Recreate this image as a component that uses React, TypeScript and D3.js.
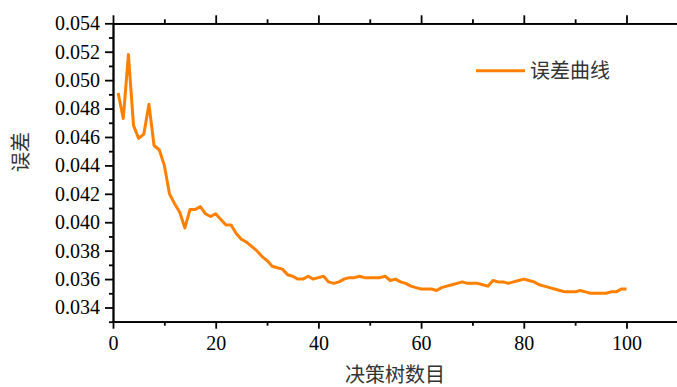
import { useEffect, useRef } from "react";
import * as d3 from "d3";

// number of trees (1..100) and the error
const treeCounts: number[] = d3.range(1, 101);
const errorValues: number[] = [
  0.0491, 0.0473, 0.0518, 0.0468, 0.0459, 0.0462, 0.0483, 0.0454, 0.0451, 0.0440,
  0.0420, 0.0413, 0.0407, 0.0396, 0.0409, 0.0409, 0.0411, 0.0406, 0.0404, 0.0406,
  0.0402, 0.0398, 0.0398, 0.0392, 0.0388, 0.0386, 0.0383, 0.0380, 0.0376, 0.0373,
  0.0369, 0.0368, 0.0367, 0.0363, 0.0362, 0.0360, 0.0360, 0.0362, 0.0360, 0.0361,
  0.0362, 0.0358, 0.0357, 0.0358, 0.0360, 0.0361, 0.0361, 0.0362, 0.0361, 0.0361,
  0.0361, 0.0361, 0.0362, 0.0359, 0.0360, 0.0358, 0.0357, 0.0355, 0.0354, 0.0353,
  0.0353, 0.0353, 0.0352, 0.0354, 0.0355, 0.0356, 0.0357, 0.0358, 0.0357, 0.0357,
  0.0357, 0.0356, 0.0355, 0.0359, 0.0358, 0.0358, 0.0357, 0.0358, 0.0359, 0.0360,
  0.0359, 0.0358, 0.0356, 0.0355, 0.0354, 0.0353, 0.0352, 0.0351, 0.0351, 0.0351,
  0.0352, 0.0351, 0.0350, 0.0350, 0.0350, 0.0350, 0.0351, 0.0351, 0.0353, 0.0353,
];

const xMajorTicks = [0, 20, 40, 60, 80, 100];
const xMinorTicks = [10, 30, 50, 70, 90];
const yMajorTicks = [0.034, 0.036, 0.038, 0.040, 0.042, 0.044, 0.046, 0.048, 0.050, 0.052, 0.054];
const yMinorTicks = [0.033, 0.035, 0.037, 0.039, 0.041, 0.043, 0.045, 0.047, 0.049, 0.051, 0.053];

const seriesName = "误差曲线";
const xTitle = "决策树数目";
const yTitle = "误差";

const WIDTH = 677;
const HEIGHT = 387;
const LINE_COLOR = "#FF8000";
const NUM_FONT = "'Liberation Serif', 'Times New Roman', serif";
const CJK_FONT = "'Noto Sans CJK SC', sans-serif";

export default function App() {
  const svgRef = useRef<SVGSVGElement>(null);

  useEffect(() => {
    const svg = d3.select(svgRef.current);
    svg.selectAll("*").remove();

    const left = 113;
    const top = 23.3;
    const bottom = 321.7;

    const xScale = d3.scaleLinear().domain([0, 110]).range([left, left + 5.135 * 110]);
    const yScale = d3.scaleLinear().domain([0.033, 0.054]).range([bottom, top]);

    const styleAxis = (g: any) => {
      g.attr("font-family", NUM_FONT).attr("font-size", 20);
      g.selectAll("path, line").attr("stroke", "#000").attr("stroke-width", 1.8);
      g.selectAll("text").attr("fill", "#000");
    };

    // minor ticks first, then major on top
    svg.append("g")
      .attr("transform", `translate(0, ${bottom})`)
      .call(d3.axisBottom(xScale).tickValues(xMinorTicks).tickSize(4).tickSizeOuter(0).tickFormat(() => ""))
      .call(styleAxis);
    svg.append("g")
      .attr("transform", `translate(0, ${bottom})`)
      .call(d3.axisBottom(xScale).tickValues(xMajorTicks).tickSize(7).tickSizeOuter(0).tickPadding(7).tickFormat(d3.format("d")))
      .call(styleAxis);

    svg.append("g")
      .attr("transform", `translate(0, ${top})`)
      .call(d3.axisTop(xScale).tickValues(xMinorTicks).tickSize(4).tickSizeOuter(0).tickFormat(() => ""))
      .call(styleAxis);
    svg.append("g")
      .attr("transform", `translate(0, ${top})`)
      .call(d3.axisTop(xScale).tickValues(xMajorTicks).tickSize(8).tickSizeOuter(0).tickFormat(() => ""))
      .call(styleAxis);

    svg.append("g")
      .attr("transform", `translate(${left}, 0)`)
      .call(d3.axisLeft(yScale).tickValues(yMinorTicks).tickSize(4).tickSizeOuter(0).tickFormat(() => ""))
      .call(styleAxis);
    svg.append("g")
      .attr("transform", `translate(${left}, 0)`)
      .call(d3.axisLeft(yScale).tickValues(yMajorTicks).tickSize(8).tickSizeOuter(0).tickPadding(5).tickFormat(d3.format(".3f")))
      .call(styleAxis);

    const points = treeCounts.map((t, i) => [t, errorValues[i]] as [number, number]);
    const line = d3.line<[number, number]>()
      .x(d => xScale(d[0]))
      .y(d => yScale(d[1]));

    svg.append("path")
      .datum(points)
      .attr("d", line)
      .attr("fill", "none")
      .attr("stroke", LINE_COLOR)
      .attr("stroke-width", 3)
      .attr("stroke-linejoin", "round");

    // legend
    svg.append("line")
      .attr("x1", 476).attr("x2", 525)
      .attr("y1", 70.7).attr("y2", 70.7)
      .attr("stroke", LINE_COLOR)
      .attr("stroke-width", 3);
    svg.append("text")
      .attr("x", 530)
      .attr("y", 78)
      .attr("font-family", CJK_FONT)
      .attr("font-size", 20)
      .attr("fill", "#333")
      .text(seriesName);

    svg.append("text")
      .attr("x", 395)
      .attr("y", 382)
      .attr("text-anchor", "middle")
      .attr("font-family", CJK_FONT)
      .attr("font-size", 20)
      .attr("fill", "#333")
      .text(xTitle);

    svg.append("text")
      .attr("transform", "translate(28, 152) rotate(-90)")
      .attr("text-anchor", "middle")
      .attr("font-family", CJK_FONT)
      .attr("font-size", 20)
      .attr("fill", "#333")
      .text(yTitle);
  }, []);

  return (
    <svg
      ref={svgRef}
      width={WIDTH}
      height={HEIGHT}
      style={{ position: "absolute", left: 0, top: 0, background: "#fff" }}
    />
  );
}
